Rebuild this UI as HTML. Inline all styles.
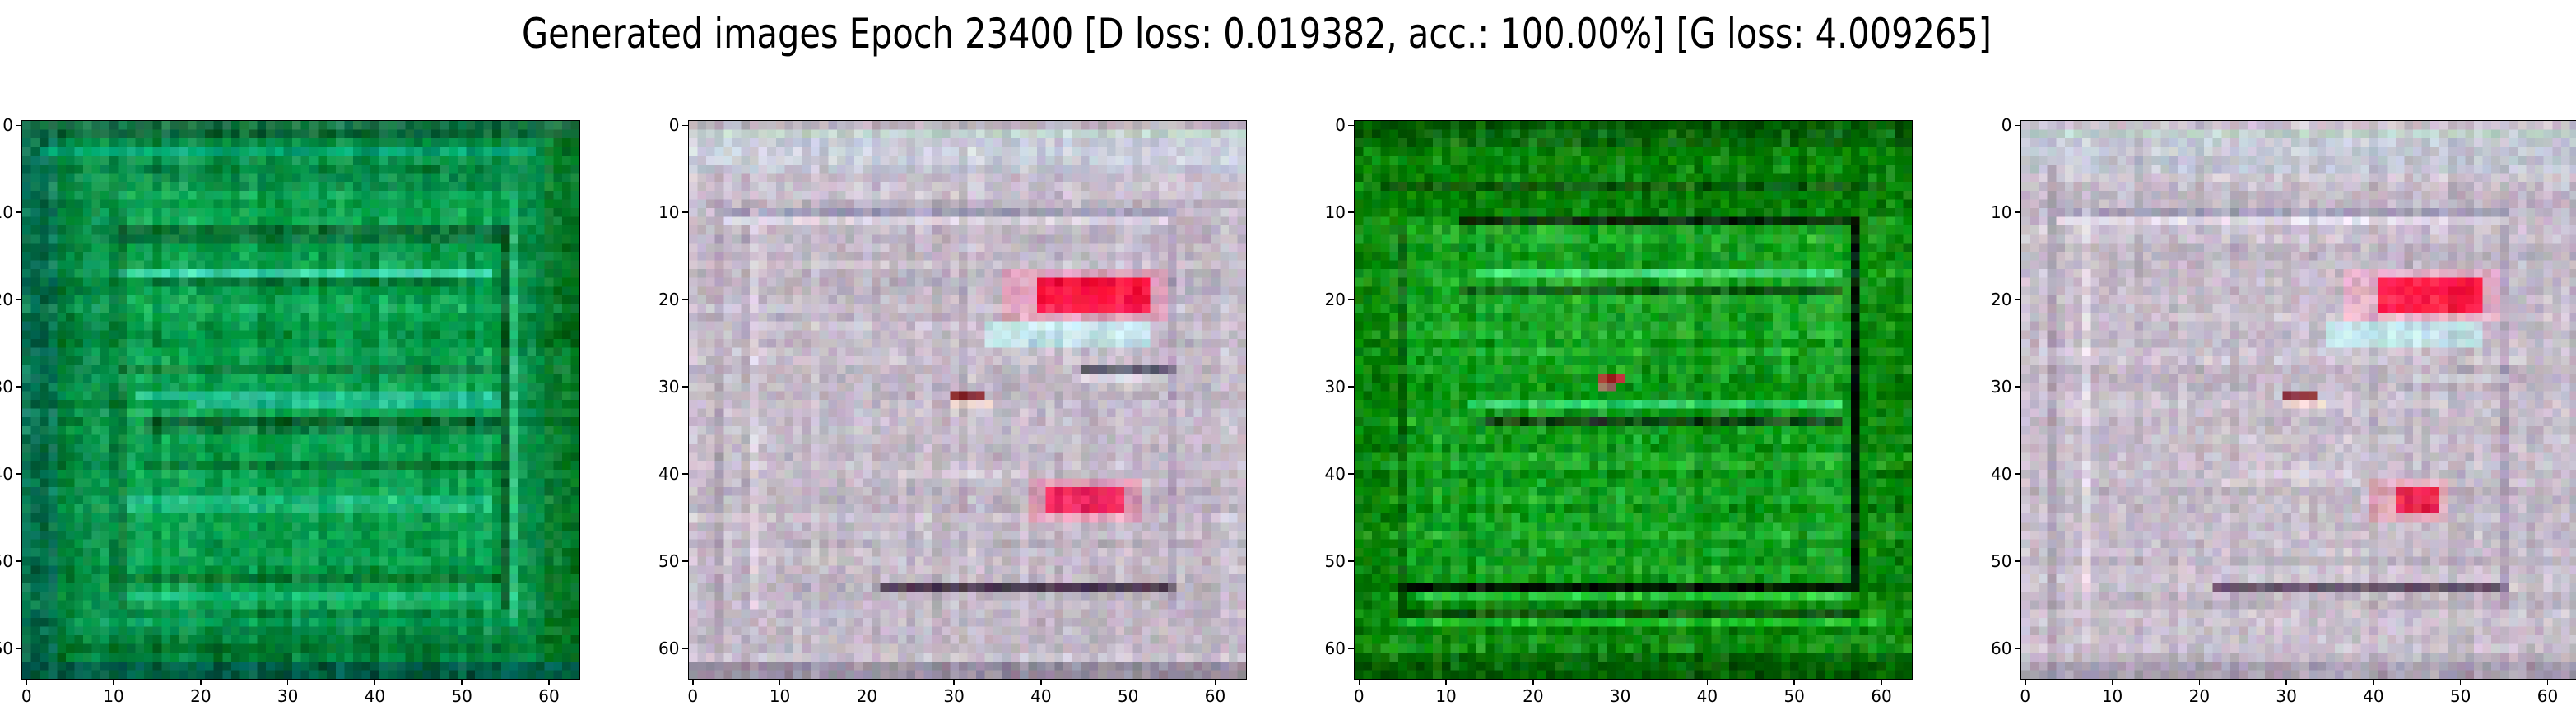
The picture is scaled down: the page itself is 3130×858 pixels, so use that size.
<!DOCTYPE html>
<html><head><meta charset="utf-8">
<style>
html,body{margin:0;padding:0;background:#fff;}
body{width:3130px;height:845px;position:relative;overflow:hidden;font-family:"DejaVu Sans","Liberation Sans",sans-serif;}
.ax{position:absolute;top:147px;width:677px;height:678px;}
.ax canvas{position:absolute;left:0;top:0;width:677px;height:678px;image-rendering:pixelated;}
.frame{position:absolute;left:-1px;top:-1px;width:677px;height:678px;border:1.5px solid #000;}
.tick{position:absolute;background:#000;}
.tl{position:absolute;font-size:20px;color:#000;white-space:nowrap;}
#title{position:absolute;left:0;top:0;}
</style></head>
<body>
<svg id="title" width="3130" height="90"><text x="634" y="58" font-family="DejaVu Sans, Liberation Sans, sans-serif" font-size="50" textLength="1786" lengthAdjust="spacingAndGlyphs">Generated images Epoch 23400 [D loss: 0.019382, acc.: 100.00%] [G loss: 4.009265]</text></svg>
<div id="figs"></div>
<script>
// tick values
const ticks = [0,10,20,30,40,50,60];
const nPix = 64;
// image descriptions: base colour, horizontal lines, vertical lines, rect regions
const base1 = [0,135,65];
const rects1 = [[8,55,11,56,10,165,80,0.8],[0,63,0,3,0,105,75,0.9],[0,63,60,63,0,110,30,0.8],[0,1,0,63,20,100,60,0.8],[62,63,0,63,0,100,80,0.9]];
const hlines1 = [[3,2,58,0,170,120,0.8],[12,11,55,10,50,20,0.45],[13,11,55,10,60,30,0.4],[17,11,53,60,215,175,0.85],[18,14,50,10,70,30,0.35],[28,11,53,10,60,20,0.35],[31,13,54,40,195,165,0.7],[32,20,54,50,210,180,0.7],[34,14,54,10,40,20,0.5],[35,14,54,10,50,25,0.35],[39,14,54,20,70,30,0.35],[43,11,53,30,195,150,0.6],[44,11,53,30,190,140,0.5],[52,11,54,20,70,20,0.4],[54,11,56,20,185,125,0.7],[57,4,56,20,180,110,0.7],[60,4,60,0,110,40,0.5]];
const vlines1 = [[11,10,55,10,70,30,0.35],[55,12,55,0,35,10,0.55],[56,8,56,50,195,135,0.6],[52,12,55,20,180,120,0.45]];
const base2 = [196,186,200];
const rects2 = [[1,1,0,63,195,222,210,0.8],[2,5,0,63,195,205,218,0.7],[17,22,36,54,240,160,190,0.7],[18,21,40,52,255,20,65,0.95],[23,25,34,52,195,235,240,0.85],[41,45,39,51,240,140,170,0.6],[42,44,41,49,245,30,90,0.9],[62,63,0,63,150,140,160,0.8],[31,31,30,33,130,30,40,0.9],[32,32,30,34,240,210,200,0.8]];
const hlines2 = [[10,4,55,120,120,160,0.5],[11,4,55,232,225,238,0.7],[53,22,55,60,40,65,0.8],[40,24,38,230,220,235,0.5],[29,45,55,235,235,240,0.6],[28,45,55,40,40,70,0.6]];
const vlines2 = [[7,10,55,232,222,232,0.6],[3,5,60,165,150,170,0.5],[55,10,55,160,140,175,0.5]];
const base3 = [10,135,10];
const rects3 = [[12,52,5,57,25,170,40,0.7],[0,2,0,63,0,90,0,0.8],[61,63,0,63,0,95,0,0.8],[29,29,28,30,190,40,40,0.9],[30,30,28,29,200,110,110,0.8],[34,34,27,28,110,40,140,0.8]];
const hlines3 = [[7,3,60,0,50,0,0.6],[11,12,57,0,15,0,0.85],[17,14,55,70,220,130,0.8],[19,12,55,10,40,10,0.6],[32,13,55,60,225,130,0.8],[34,14,55,10,30,10,0.7],[53,5,57,0,20,0,0.85],[54,7,56,40,205,60,0.8],[56,5,57,0,50,0,0.7],[57,5,60,30,200,50,0.8]];
const vlines3 = [[57,12,52,0,10,10,0.85],[5,12,55,0,60,0,0.5],[14,12,52,0,160,40,0.4]];
const base4 = [196,186,200];
const rects4 = [[1,1,0,63,195,222,210,0.8],[2,5,0,63,195,205,218,0.7],[17,22,37,54,240,165,195,0.65],[18,21,41,52,255,20,65,0.95],[23,25,35,52,195,235,240,0.85],[41,45,40,48,235,150,170,0.6],[42,44,43,47,240,30,70,0.9],[62,63,0,63,150,140,160,0.8],[31,31,30,33,130,30,40,0.9],[32,32,30,34,240,210,200,0.8]];
const hlines4 = [[10,4,55,125,125,160,0.5],[11,4,55,232,225,238,0.7],[53,22,55,70,50,75,0.8],[40,24,38,230,220,235,0.5],[29,45,55,235,235,240,0.6]];
const vlines4 = [[7,10,55,232,222,232,0.6],[3,5,60,165,150,170,0.5],[55,10,55,160,140,175,0.5]];
const noiseAmp = [32,26,40,26];
const stripeAmp = [26,18,26,18];

const imgs = [[base1,rects1,hlines1,vlines1],[base2,rects2,hlines2,vlines2],[base3,rects3,hlines3,vlines3],[base4,rects4,hlines4,vlines4]];
const axLeft = [27,836.5,1646,2455.5];
const W = 677, H = 678;
function hash(a,b,c){let h=(a*374761393+b*668265263+c*2147483647)|0;h=(h^(h>>>13))*1274126177|0;h=h^(h>>>16);return ((h>>>0)%1000)/1000-0.5;}
function mix(p,col,a){for(let k=0;k<3;k++)p[k]=p[k]*(1-a)+col[k]*a;}
const figs=document.getElementById('figs');
imgs.forEach((d,i)=>{
  const [base,rects,hl,vl]=d;
  const ax=document.createElement('div');ax.className='ax';ax.style.left=axLeft[i]+'px';
  
  
  const cv=document.createElement('canvas');cv.width=nPix;cv.height=nPix;
  
  
  const ctx=cv.getContext('2d');const id=ctx.createImageData(nPix,nPix);
  for(let r=0;r<nPix;r++)for(let c=0;c<nPix;c++){
    const p=base.slice();
    rects.forEach(q=>{if(r>=q[0]&&r<=q[1]&&c>=q[2]&&c<=q[3])mix(p,[q[4],q[5],q[6]],q[7]);});
    hl.forEach(q=>{if(r===q[0]&&c>=q[1]&&c<=q[2])mix(p,[q[3],q[4],q[5]],q[6]);});
    vl.forEach(q=>{if(c===q[0]&&r>=q[1]&&r<=q[2])mix(p,[q[3],q[4],q[5]],q[6]);});
    const n=noiseAmp[i];
    const g=hash(r,c,i*7+1)*n + (hash(r,99,i+50)+hash(99,c,i+70))*stripeAmp[i];
    const o=(r*nPix+c)*4;
    for(let k=0;k<3;k++){id.data[o+k]=Math.max(0,Math.min(255,p[k]+g+hash(r,c,i*13+k+3)*n*0.7));}
    id.data[o+3]=255;
  }
  ctx.putImageData(id,0,0);
  ax.appendChild(cv);
  const fr=document.createElement('div');fr.className='frame';
  
  
  ax.appendChild(fr);
  ticks.forEach(t=>{
    const px=(t+0.5)*W/nPix, py=(t+0.5)*H/nPix;
    const tx=document.createElement('div');tx.className='tick';tx.style.cssText=`left:${px-0.75}px;top:${H}px;width:1.5px;height:7px;`;
    
    
    ax.appendChild(tx);
    const lx=document.createElement('div');lx.className='tl';lx.textContent=t;lx.style.left=px+'px';lx.style.top=(H+9)+'px';lx.style.transform='translateX(-50%)';
    
    
    ax.appendChild(lx);
    const ty=document.createElement('div');ty.className='tick';ty.style.cssText=`left:-8px;top:${py-0.75}px;width:7px;height:1.5px;`;
    
    
    ax.appendChild(ty);
    const ly=document.createElement('div');ly.className='tl';ly.textContent=t;ly.style.right=(W+11)+'px';ly.style.top=(py-12)+'px';
    
    
    ax.appendChild(ly);
  });
  figs.appendChild(ax);
});
</script>
</body></html>
